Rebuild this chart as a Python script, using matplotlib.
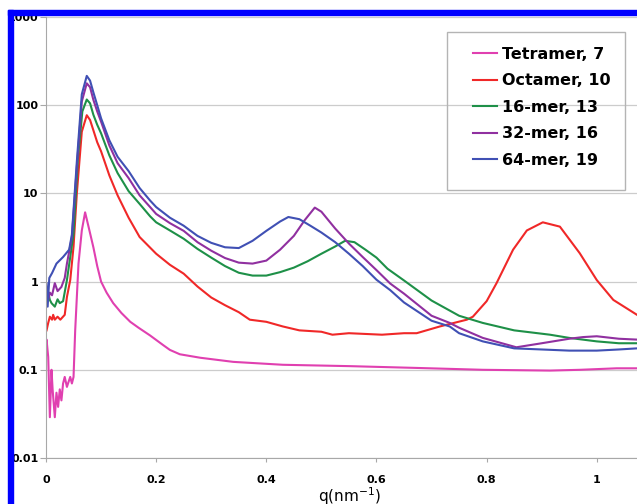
import matplotlib
matplotlib.use("Agg")
import matplotlib.pyplot as plt
from matplotlib.patches import Rectangle

# scattering curves, I(q) on a log scale
q_tet = [0.0, 0.001, 0.004, 0.007, 0.010, 0.012, 0.016, 0.019, 0.022, 0.025, 0.028,
         0.031, 0.034, 0.038, 0.040, 0.044, 0.047, 0.050, 0.053, 0.059, 0.065, 0.071,
         0.078, 0.086, 0.093, 0.100, 0.110, 0.122, 0.137, 0.153, 0.168, 0.189, 0.213,
         0.225, 0.243, 0.28, 0.34, 0.43, 0.552, 0.673, 0.793, 0.915, 0.97, 1.036, 1.073]
i_tet = [0.155, 0.22, 0.14, 0.029, 0.1, 0.06, 0.029, 0.055, 0.038, 0.06, 0.045,
         0.07, 0.083, 0.064, 0.07, 0.083, 0.07, 0.083, 0.28, 1.6, 3.8, 6.1,
         4.0, 2.45, 1.5, 1.0, 0.75, 0.57, 0.44, 0.35, 0.3, 0.245, 0.19,
         0.168, 0.15, 0.137, 0.123, 0.114, 0.11, 0.105, 0.1, 0.098, 0.1, 0.104, 0.104]

q_oct = [0.001, 0.004, 0.007, 0.011, 0.013, 0.016, 0.021, 0.026, 0.034, 0.038, 0.044,
         0.050, 0.056, 0.065, 0.074, 0.080, 0.086, 0.093, 0.100, 0.115, 0.130, 0.150,
         0.170, 0.200, 0.225, 0.25, 0.275, 0.30, 0.325, 0.35, 0.37, 0.40, 0.43, 0.46,
         0.50, 0.52, 0.55, 0.61, 0.65, 0.673, 0.715, 0.764, 0.775, 0.80, 0.818, 0.848,
         0.873, 0.902, 0.933, 0.969, 1.0, 1.03, 1.073]
i_oct = [0.28, 0.34, 0.4, 0.37, 0.42, 0.37, 0.4, 0.37, 0.42, 0.67, 1.04,
         2.5, 10, 50, 77, 68, 52, 38, 30, 16, 9.5, 5.3,
         3.2, 2.07, 1.55, 1.23, 0.88, 0.66, 0.54, 0.45, 0.37, 0.35, 0.31, 0.28,
         0.27, 0.25, 0.26, 0.25, 0.26, 0.26, 0.31, 0.37, 0.4, 0.6, 0.96, 2.3,
         3.8, 4.7, 4.2, 2.1, 1.04, 0.62, 0.42]

q_16 = [0.001, 0.004, 0.007, 0.010, 0.016, 0.021, 0.025, 0.031, 0.038, 0.044, 0.050,
        0.058, 0.066, 0.074, 0.080, 0.086, 0.093, 0.100, 0.115, 0.130, 0.150, 0.170,
        0.189, 0.200, 0.225, 0.25, 0.275, 0.30, 0.325, 0.35, 0.375, 0.40, 0.425, 0.45,
        0.475, 0.50, 0.525, 0.543, 0.56, 0.58, 0.60, 0.62, 0.65, 0.70, 0.75, 0.793,
        0.85, 0.915, 0.95, 1.00, 1.04, 1.073]
i_16 = [0.57, 0.75, 0.62, 0.57, 0.52, 0.63, 0.57, 0.6, 1.04, 1.9, 3.5,
        25, 85, 116, 105, 78, 60, 48, 27, 17, 10.6, 7.6,
        5.5, 4.7, 3.8, 3.06, 2.35, 1.87, 1.5, 1.26, 1.17, 1.17, 1.28, 1.44,
        1.7, 2.07, 2.5, 2.9, 2.8, 2.3, 1.87, 1.4, 1.03, 0.61, 0.41, 0.34,
        0.28, 0.25, 0.23, 0.21, 0.2, 0.2]

q_32 = [0.001, 0.004, 0.007, 0.011, 0.016, 0.021, 0.028, 0.034, 0.038, 0.047, 0.056,
        0.065, 0.074, 0.080, 0.086, 0.093, 0.100, 0.115, 0.130, 0.150, 0.170, 0.189,
        0.200, 0.225, 0.25, 0.275, 0.30, 0.325, 0.35, 0.375, 0.40, 0.425, 0.45, 0.47,
        0.488, 0.50, 0.525, 0.55, 0.575, 0.60, 0.625, 0.65, 0.70, 0.733, 0.75, 0.793,
        0.854, 0.90, 0.95, 0.975, 1.00, 1.04, 1.073]
i_32 = [0.8, 0.62, 0.75, 0.7, 0.96, 0.78, 0.87, 1.1, 1.6, 3.2, 20,
        110, 177, 160, 115, 85, 65, 35, 22, 14.9, 9.5, 7.0,
        5.85, 4.6, 3.76, 2.8, 2.24, 1.85, 1.64, 1.6, 1.73, 2.3, 3.3, 5.0,
        6.9, 6.2, 4.0, 2.7, 1.9, 1.35, 0.95, 0.73, 0.41, 0.34, 0.3, 0.23,
        0.18, 0.2, 0.225, 0.235, 0.24, 0.225, 0.22]

q_64 = [0.001, 0.003, 0.006, 0.011, 0.019, 0.031, 0.042, 0.047, 0.056, 0.065, 0.074,
        0.080, 0.086, 0.093, 0.100, 0.115, 0.130, 0.150, 0.170, 0.189, 0.200, 0.225,
        0.25, 0.275, 0.30, 0.325, 0.35, 0.375, 0.40, 0.425, 0.44, 0.46, 0.48, 0.50,
        0.525, 0.55, 0.575, 0.60, 0.625, 0.65, 0.70, 0.733, 0.75, 0.793, 0.85, 0.90,
        0.95, 1.00, 1.04, 1.073]
i_64 = [0.96, 0.52, 1.1, 1.25, 1.6, 1.9, 2.3, 3.4, 23, 133, 215,
        190, 140, 100, 71, 40, 26, 17.9, 11.5, 8.3, 7.0, 5.3,
        4.3, 3.3, 2.75, 2.45, 2.4, 2.9, 3.76, 4.8, 5.4, 5.1, 4.3, 3.6,
        2.8, 2.07, 1.5, 1.05, 0.8, 0.58, 0.36, 0.31, 0.26, 0.21, 0.175, 0.17,
        0.165, 0.165, 0.17, 0.175]

labels = ["Tetramer, 7", "Octamer, 10", "16-mer, 13", "32-mer, 16", "64-mer, 19"]
colors = ["#e040b0", "#f02828", "#1e9048", "#9030a0", "#4050b4"]
series = [(q_tet, i_tet), (q_oct, i_oct), (q_16, i_16), (q_32, i_32), (q_64, i_64)]

x_ticks = [0, 0.2, 0.4, 0.6, 0.8, 1]
x_ticklabels = ["0", "0.2", "0.4", "0.6", "0.8", "1"]
y_ticks = [0.01, 0.1, 1, 10, 100, 1000]
y_ticklabels = ["0.01", "0.1", "1", "10", "100", "1000"]

W, H = 637, 504
fig = plt.figure(figsize=(W / 100, H / 100), dpi=100)
ax = fig.add_axes([46 / W, 1 - 458 / H, 1 - 46 / W, (458 - 17) / H])

for (q, i), lab, c in zip(series, labels, colors):
    ax.plot(q, i, color=c, lw=1.5, label=lab)

ax.set_yscale("log")
ax.set_xlim(0, 1.073)
ax.set_ylim(0.01, 1000)
ax.set_xticks(x_ticks)
ax.set_xticklabels(x_ticklabels)
ax.set_yticks(y_ticks)
ax.set_yticklabels(y_ticklabels)
ax.minorticks_off()
ax.yaxis.grid(True, color="#cccccc", lw=0.9)
ax.set_axisbelow(True)
for s in ["top", "right"]:
    ax.spines[s].set_visible(False)
for s in ["left", "bottom"]:
    ax.spines[s].set_color("#a8a8a8")
ax.tick_params(axis="y", length=4, color="#a8a8a8", pad=1.5)
ax.tick_params(axis="x", length=3, color="#a8a8a8", pad=9)
for t in ax.get_xticklabels() + ax.get_yticklabels():
    t.set_fontsize(8)
    t.set_fontweight("bold")
    t.set_family("DejaVu Sans")

ax.set_xlabel("q(nm$^{-1}$)", fontsize=11)
ax.xaxis.set_label_coords(0.513, -0.062)

leg = ax.legend(loc="upper left", bbox_to_anchor=(465 / W, 1 - 39 / H),
                bbox_transform=fig.transFigure, frameon=False, borderpad=0,
                handlelength=1.5, handletextpad=0.3, labelspacing=0.72,
                prop={"family": "DejaVu Sans", "weight": "bold", "size": 11.5})
fig.add_artist(Rectangle((447 / W, 1 - 190 / H), 178 / W, 158 / H,
                         transform=fig.transFigure, fill=False,
                         edgecolor="#b4b4b4", lw=1, zorder=5))

# blue frame around the cropped figure
fig.add_artist(Rectangle((8 / W, 0), 5 / W, 1 - 10 / H, transform=fig.transFigure,
                         color="#0000ff", zorder=10))
fig.add_artist(Rectangle((8 / W, 1 - 15 / H), 1 - 8 / W, 5 / H,
                         transform=fig.transFigure, color="#0000ff", zorder=10))

fig.savefig("out.png", dpi=100)
